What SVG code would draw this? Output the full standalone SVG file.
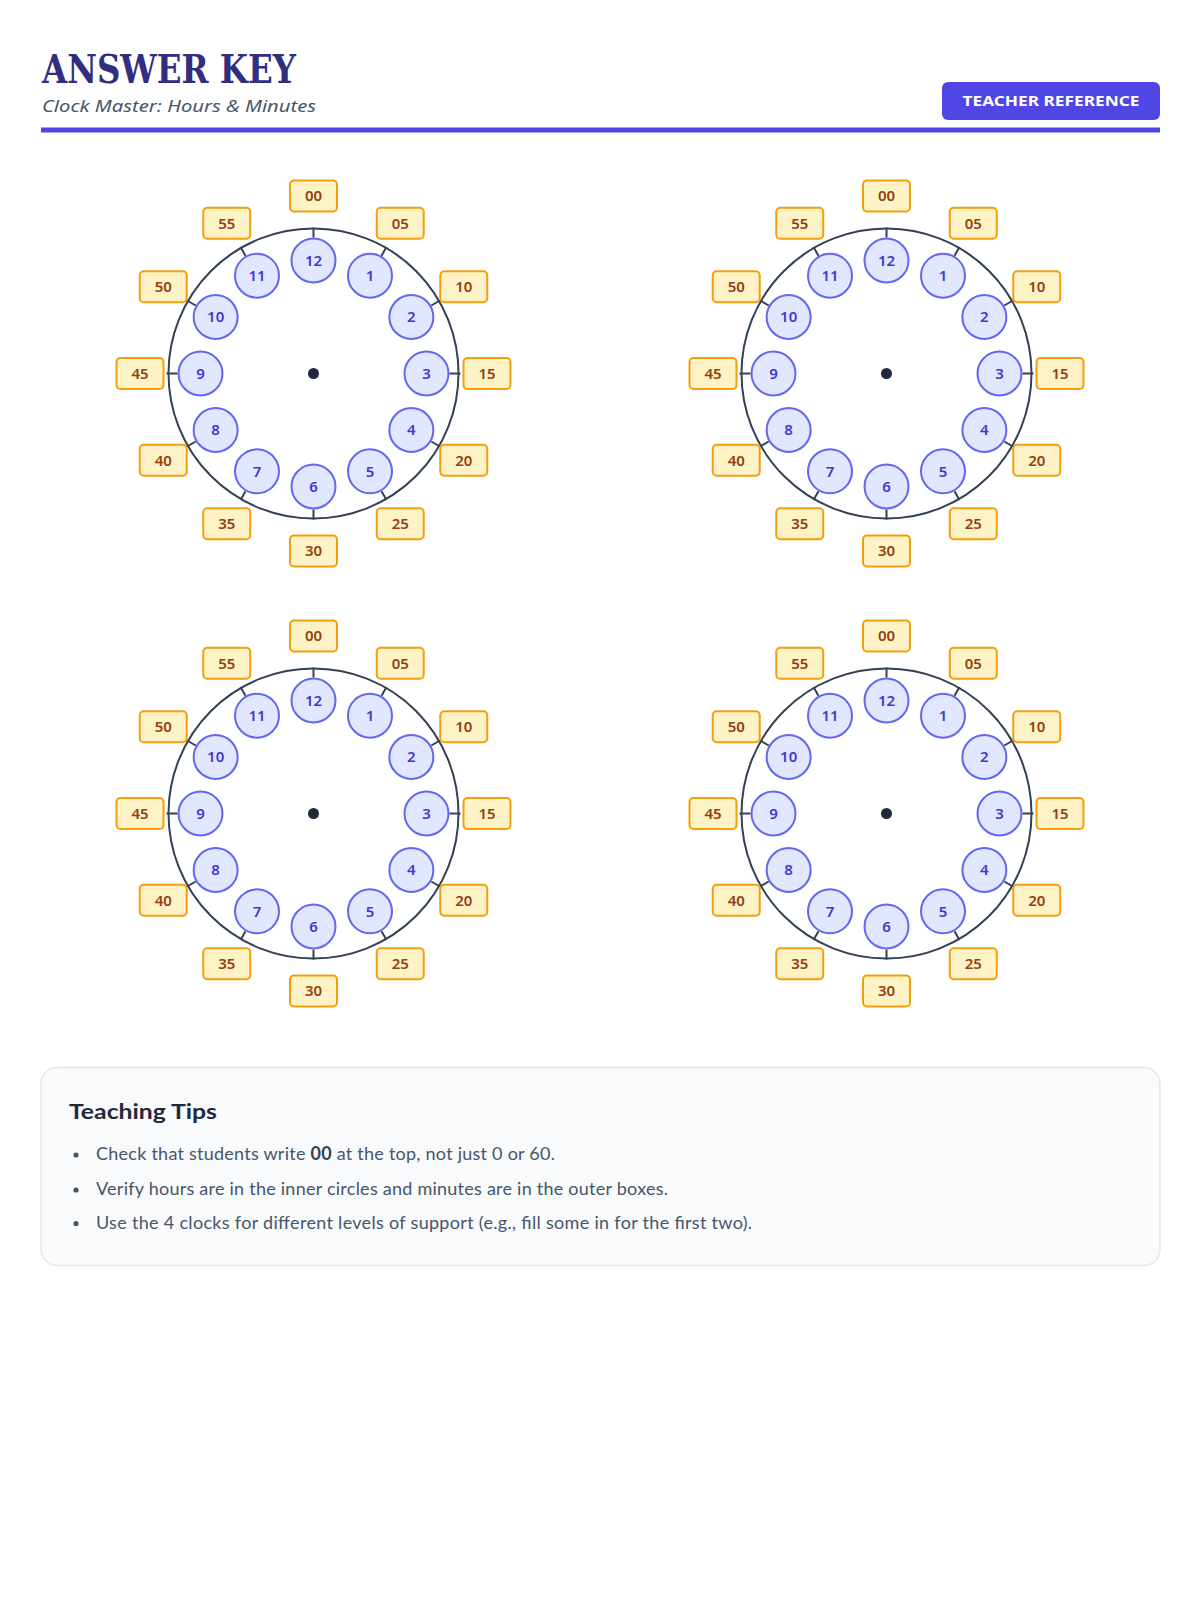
<svg xmlns="http://www.w3.org/2000/svg" width="1200" height="1600" viewBox="0 0 1200 1600">
<style>
.title{font-family:"DejaVu Serif","Liberation Serif",serif;font-weight:700;font-size:39px;fill:#312e81}
.sub{font-family:"Noto Sans","Open Sans",sans-serif;font-style:italic;font-size:17px;fill:#475569}
.badge{fill:#4f46e5}
.badgeT{font-family:"Noto Sans","Open Sans",sans-serif;font-weight:700;font-size:14px;fill:#ffffff;text-anchor:middle}
.face{fill:#ffffff;stroke:#334155;stroke-width:2}
.tick{stroke:#334155;stroke-width:2;fill:none}
.dot{fill:#1e293b}
.hr circle{fill:#e0e7ff;stroke:#6366f1;stroke-width:2}
.hr text{font-family:"Noto Sans","Open Sans",sans-serif;font-weight:600;font-size:15px;fill:#4338ca;text-anchor:middle}
.mn rect{fill:#fef3c7;stroke:#f59e0b;stroke-width:2}
.mn text{font-family:"Noto Sans","Open Sans",sans-serif;font-weight:600;font-size:15px;fill:#92400e;text-anchor:middle}
.tipbox{fill:#f8fafc;stroke:#e2e8f0;stroke-width:1.5}
.tiph{font-family:"Lato","Noto Sans",sans-serif;font-weight:700;font-size:21px;fill:#1e293b}
.tip{font-family:"Lato","Noto Sans",sans-serif;font-size:18px;fill:#475569}
.bul{fill:#475569}
</style>
<defs>
<g id="face-tpl">
<circle class="face" r="145"/>
<path class="tick" d="M0,-136V-146M68,-117.78L73,-126.44M117.78,-68L126.44,-73M136,0H147M117.78,68L126.44,73M68,117.78L73,126.44M0,136V146M-68,117.78L-73,126.44M-117.78,68L-126.44,73M-136,0H-147M-117.78,-68L-126.44,-73M-68,-117.78L-73,-126.44"/>
<circle class="dot" r="5.5"/>
</g>
</defs>

<g id="header">
<text class="title" x="42" y="83" textLength="254" lengthAdjust="spacingAndGlyphs">ANSWER KEY</text>
<text class="sub" x="42" y="112" textLength="274" lengthAdjust="spacingAndGlyphs">Clock Master: Hours &amp; Minutes</text>
<rect class="badge" x="942" y="82" width="218" height="38" rx="6"/>
<text class="badgeT" x="1051" y="106" textLength="177" lengthAdjust="spacingAndGlyphs">TEACHER REFERENCE</text>
<rect x="41" y="127.5" width="1119" height="5" fill="#4f46e5"/>
</g>

<g id="clock-1" transform="translate(313.5,373.5)">
<use href="#face-tpl"/>
<g class="hr">
<g id="c1-h12" transform="translate(0,-113)"><circle r="22"/><text y="5.3">12</text></g>
<g id="c1-h1" transform="translate(56.5,-97.86)"><circle r="22"/><text y="5.3">1</text></g>
<g id="c1-h2" transform="translate(97.86,-56.5)"><circle r="22"/><text y="5.3">2</text></g>
<g id="c1-h3" transform="translate(113,0)"><circle r="22"/><text y="5.3">3</text></g>
<g id="c1-h4" transform="translate(97.86,56.5)"><circle r="22"/><text y="5.3">4</text></g>
<g id="c1-h5" transform="translate(56.5,97.86)"><circle r="22"/><text y="5.3">5</text></g>
<g id="c1-h6" transform="translate(0,113)"><circle r="22"/><text y="5.3">6</text></g>
<g id="c1-h7" transform="translate(-56.5,97.86)"><circle r="22"/><text y="5.3">7</text></g>
<g id="c1-h8" transform="translate(-97.86,56.5)"><circle r="22"/><text y="5.3">8</text></g>
<g id="c1-h9" transform="translate(-113,0)"><circle r="22"/><text y="5.3">9</text></g>
<g id="c1-h10" transform="translate(-97.86,-56.5)"><circle r="22"/><text y="5.3">10</text></g>
<g id="c1-h11" transform="translate(-56.5,-97.86)"><circle r="22"/><text y="5.3">11</text></g>
</g>
<g class="mn">
<g id="c1-m00" transform="translate(0,-177.5)"><rect x="-23.5" y="-15.5" width="47" height="31" rx="4"/><text y="5.3">00</text></g>
<g id="c1-m05" transform="translate(86.75,-150.26)"><rect x="-23.5" y="-15.5" width="47" height="31" rx="4"/><text y="5.3">05</text></g>
<g id="c1-m10" transform="translate(150.26,-86.75)"><rect x="-23.5" y="-15.5" width="47" height="31" rx="4"/><text y="5.3">10</text></g>
<g id="c1-m15" transform="translate(173.5,0)"><rect x="-23.5" y="-15.5" width="47" height="31" rx="4"/><text y="5.3">15</text></g>
<g id="c1-m20" transform="translate(150.26,86.75)"><rect x="-23.5" y="-15.5" width="47" height="31" rx="4"/><text y="5.3">20</text></g>
<g id="c1-m25" transform="translate(86.75,150.26)"><rect x="-23.5" y="-15.5" width="47" height="31" rx="4"/><text y="5.3">25</text></g>
<g id="c1-m30" transform="translate(0,177.5)"><rect x="-23.5" y="-15.5" width="47" height="31" rx="4"/><text y="5.3">30</text></g>
<g id="c1-m35" transform="translate(-86.75,150.26)"><rect x="-23.5" y="-15.5" width="47" height="31" rx="4"/><text y="5.3">35</text></g>
<g id="c1-m40" transform="translate(-150.26,86.75)"><rect x="-23.5" y="-15.5" width="47" height="31" rx="4"/><text y="5.3">40</text></g>
<g id="c1-m45" transform="translate(-173.5,0)"><rect x="-23.5" y="-15.5" width="47" height="31" rx="4"/><text y="5.3">45</text></g>
<g id="c1-m50" transform="translate(-150.26,-86.75)"><rect x="-23.5" y="-15.5" width="47" height="31" rx="4"/><text y="5.3">50</text></g>
<g id="c1-m55" transform="translate(-86.75,-150.26)"><rect x="-23.5" y="-15.5" width="47" height="31" rx="4"/><text y="5.3">55</text></g>
</g>
</g>

<g id="clock-2" transform="translate(886.5,373.5)">
<use href="#face-tpl"/>
<g class="hr">
<g id="c2-h12" transform="translate(0,-113)"><circle r="22"/><text y="5.3">12</text></g>
<g id="c2-h1" transform="translate(56.5,-97.86)"><circle r="22"/><text y="5.3">1</text></g>
<g id="c2-h2" transform="translate(97.86,-56.5)"><circle r="22"/><text y="5.3">2</text></g>
<g id="c2-h3" transform="translate(113,0)"><circle r="22"/><text y="5.3">3</text></g>
<g id="c2-h4" transform="translate(97.86,56.5)"><circle r="22"/><text y="5.3">4</text></g>
<g id="c2-h5" transform="translate(56.5,97.86)"><circle r="22"/><text y="5.3">5</text></g>
<g id="c2-h6" transform="translate(0,113)"><circle r="22"/><text y="5.3">6</text></g>
<g id="c2-h7" transform="translate(-56.5,97.86)"><circle r="22"/><text y="5.3">7</text></g>
<g id="c2-h8" transform="translate(-97.86,56.5)"><circle r="22"/><text y="5.3">8</text></g>
<g id="c2-h9" transform="translate(-113,0)"><circle r="22"/><text y="5.3">9</text></g>
<g id="c2-h10" transform="translate(-97.86,-56.5)"><circle r="22"/><text y="5.3">10</text></g>
<g id="c2-h11" transform="translate(-56.5,-97.86)"><circle r="22"/><text y="5.3">11</text></g>
</g>
<g class="mn">
<g id="c2-m00" transform="translate(0,-177.5)"><rect x="-23.5" y="-15.5" width="47" height="31" rx="4"/><text y="5.3">00</text></g>
<g id="c2-m05" transform="translate(86.75,-150.26)"><rect x="-23.5" y="-15.5" width="47" height="31" rx="4"/><text y="5.3">05</text></g>
<g id="c2-m10" transform="translate(150.26,-86.75)"><rect x="-23.5" y="-15.5" width="47" height="31" rx="4"/><text y="5.3">10</text></g>
<g id="c2-m15" transform="translate(173.5,0)"><rect x="-23.5" y="-15.5" width="47" height="31" rx="4"/><text y="5.3">15</text></g>
<g id="c2-m20" transform="translate(150.26,86.75)"><rect x="-23.5" y="-15.5" width="47" height="31" rx="4"/><text y="5.3">20</text></g>
<g id="c2-m25" transform="translate(86.75,150.26)"><rect x="-23.5" y="-15.5" width="47" height="31" rx="4"/><text y="5.3">25</text></g>
<g id="c2-m30" transform="translate(0,177.5)"><rect x="-23.5" y="-15.5" width="47" height="31" rx="4"/><text y="5.3">30</text></g>
<g id="c2-m35" transform="translate(-86.75,150.26)"><rect x="-23.5" y="-15.5" width="47" height="31" rx="4"/><text y="5.3">35</text></g>
<g id="c2-m40" transform="translate(-150.26,86.75)"><rect x="-23.5" y="-15.5" width="47" height="31" rx="4"/><text y="5.3">40</text></g>
<g id="c2-m45" transform="translate(-173.5,0)"><rect x="-23.5" y="-15.5" width="47" height="31" rx="4"/><text y="5.3">45</text></g>
<g id="c2-m50" transform="translate(-150.26,-86.75)"><rect x="-23.5" y="-15.5" width="47" height="31" rx="4"/><text y="5.3">50</text></g>
<g id="c2-m55" transform="translate(-86.75,-150.26)"><rect x="-23.5" y="-15.5" width="47" height="31" rx="4"/><text y="5.3">55</text></g>
</g>
</g>

<g id="clock-3" transform="translate(313.5,813.5)">
<use href="#face-tpl"/>
<g class="hr">
<g id="c3-h12" transform="translate(0,-113)"><circle r="22"/><text y="5.3">12</text></g>
<g id="c3-h1" transform="translate(56.5,-97.86)"><circle r="22"/><text y="5.3">1</text></g>
<g id="c3-h2" transform="translate(97.86,-56.5)"><circle r="22"/><text y="5.3">2</text></g>
<g id="c3-h3" transform="translate(113,0)"><circle r="22"/><text y="5.3">3</text></g>
<g id="c3-h4" transform="translate(97.86,56.5)"><circle r="22"/><text y="5.3">4</text></g>
<g id="c3-h5" transform="translate(56.5,97.86)"><circle r="22"/><text y="5.3">5</text></g>
<g id="c3-h6" transform="translate(0,113)"><circle r="22"/><text y="5.3">6</text></g>
<g id="c3-h7" transform="translate(-56.5,97.86)"><circle r="22"/><text y="5.3">7</text></g>
<g id="c3-h8" transform="translate(-97.86,56.5)"><circle r="22"/><text y="5.3">8</text></g>
<g id="c3-h9" transform="translate(-113,0)"><circle r="22"/><text y="5.3">9</text></g>
<g id="c3-h10" transform="translate(-97.86,-56.5)"><circle r="22"/><text y="5.3">10</text></g>
<g id="c3-h11" transform="translate(-56.5,-97.86)"><circle r="22"/><text y="5.3">11</text></g>
</g>
<g class="mn">
<g id="c3-m00" transform="translate(0,-177.5)"><rect x="-23.5" y="-15.5" width="47" height="31" rx="4"/><text y="5.3">00</text></g>
<g id="c3-m05" transform="translate(86.75,-150.26)"><rect x="-23.5" y="-15.5" width="47" height="31" rx="4"/><text y="5.3">05</text></g>
<g id="c3-m10" transform="translate(150.26,-86.75)"><rect x="-23.5" y="-15.5" width="47" height="31" rx="4"/><text y="5.3">10</text></g>
<g id="c3-m15" transform="translate(173.5,0)"><rect x="-23.5" y="-15.5" width="47" height="31" rx="4"/><text y="5.3">15</text></g>
<g id="c3-m20" transform="translate(150.26,86.75)"><rect x="-23.5" y="-15.5" width="47" height="31" rx="4"/><text y="5.3">20</text></g>
<g id="c3-m25" transform="translate(86.75,150.26)"><rect x="-23.5" y="-15.5" width="47" height="31" rx="4"/><text y="5.3">25</text></g>
<g id="c3-m30" transform="translate(0,177.5)"><rect x="-23.5" y="-15.5" width="47" height="31" rx="4"/><text y="5.3">30</text></g>
<g id="c3-m35" transform="translate(-86.75,150.26)"><rect x="-23.5" y="-15.5" width="47" height="31" rx="4"/><text y="5.3">35</text></g>
<g id="c3-m40" transform="translate(-150.26,86.75)"><rect x="-23.5" y="-15.5" width="47" height="31" rx="4"/><text y="5.3">40</text></g>
<g id="c3-m45" transform="translate(-173.5,0)"><rect x="-23.5" y="-15.5" width="47" height="31" rx="4"/><text y="5.3">45</text></g>
<g id="c3-m50" transform="translate(-150.26,-86.75)"><rect x="-23.5" y="-15.5" width="47" height="31" rx="4"/><text y="5.3">50</text></g>
<g id="c3-m55" transform="translate(-86.75,-150.26)"><rect x="-23.5" y="-15.5" width="47" height="31" rx="4"/><text y="5.3">55</text></g>
</g>
</g>

<g id="clock-4" transform="translate(886.5,813.5)">
<use href="#face-tpl"/>
<g class="hr">
<g id="c4-h12" transform="translate(0,-113)"><circle r="22"/><text y="5.3">12</text></g>
<g id="c4-h1" transform="translate(56.5,-97.86)"><circle r="22"/><text y="5.3">1</text></g>
<g id="c4-h2" transform="translate(97.86,-56.5)"><circle r="22"/><text y="5.3">2</text></g>
<g id="c4-h3" transform="translate(113,0)"><circle r="22"/><text y="5.3">3</text></g>
<g id="c4-h4" transform="translate(97.86,56.5)"><circle r="22"/><text y="5.3">4</text></g>
<g id="c4-h5" transform="translate(56.5,97.86)"><circle r="22"/><text y="5.3">5</text></g>
<g id="c4-h6" transform="translate(0,113)"><circle r="22"/><text y="5.3">6</text></g>
<g id="c4-h7" transform="translate(-56.5,97.86)"><circle r="22"/><text y="5.3">7</text></g>
<g id="c4-h8" transform="translate(-97.86,56.5)"><circle r="22"/><text y="5.3">8</text></g>
<g id="c4-h9" transform="translate(-113,0)"><circle r="22"/><text y="5.3">9</text></g>
<g id="c4-h10" transform="translate(-97.86,-56.5)"><circle r="22"/><text y="5.3">10</text></g>
<g id="c4-h11" transform="translate(-56.5,-97.86)"><circle r="22"/><text y="5.3">11</text></g>
</g>
<g class="mn">
<g id="c4-m00" transform="translate(0,-177.5)"><rect x="-23.5" y="-15.5" width="47" height="31" rx="4"/><text y="5.3">00</text></g>
<g id="c4-m05" transform="translate(86.75,-150.26)"><rect x="-23.5" y="-15.5" width="47" height="31" rx="4"/><text y="5.3">05</text></g>
<g id="c4-m10" transform="translate(150.26,-86.75)"><rect x="-23.5" y="-15.5" width="47" height="31" rx="4"/><text y="5.3">10</text></g>
<g id="c4-m15" transform="translate(173.5,0)"><rect x="-23.5" y="-15.5" width="47" height="31" rx="4"/><text y="5.3">15</text></g>
<g id="c4-m20" transform="translate(150.26,86.75)"><rect x="-23.5" y="-15.5" width="47" height="31" rx="4"/><text y="5.3">20</text></g>
<g id="c4-m25" transform="translate(86.75,150.26)"><rect x="-23.5" y="-15.5" width="47" height="31" rx="4"/><text y="5.3">25</text></g>
<g id="c4-m30" transform="translate(0,177.5)"><rect x="-23.5" y="-15.5" width="47" height="31" rx="4"/><text y="5.3">30</text></g>
<g id="c4-m35" transform="translate(-86.75,150.26)"><rect x="-23.5" y="-15.5" width="47" height="31" rx="4"/><text y="5.3">35</text></g>
<g id="c4-m40" transform="translate(-150.26,86.75)"><rect x="-23.5" y="-15.5" width="47" height="31" rx="4"/><text y="5.3">40</text></g>
<g id="c4-m45" transform="translate(-173.5,0)"><rect x="-23.5" y="-15.5" width="47" height="31" rx="4"/><text y="5.3">45</text></g>
<g id="c4-m50" transform="translate(-150.26,-86.75)"><rect x="-23.5" y="-15.5" width="47" height="31" rx="4"/><text y="5.3">50</text></g>
<g id="c4-m55" transform="translate(-86.75,-150.26)"><rect x="-23.5" y="-15.5" width="47" height="31" rx="4"/><text y="5.3">55</text></g>
</g>
</g>

<g id="tips">
<rect class="tipbox" x="41" y="1067.5" width="1119" height="198" rx="16"/>
<text class="tiph" x="69" y="1119" textLength="148" lengthAdjust="spacingAndGlyphs">Teaching Tips</text>
<circle class="bul" cx="76" cy="1155" r="2.6"/>
<circle class="bul" cx="76" cy="1190" r="2.6"/>
<circle class="bul" cx="76" cy="1223.5" r="2.6"/>
<text class="tip" x="96" y="1160" textLength="459">Check that students write <tspan font-weight="700" fill="#334155">00</tspan> at the top, not just 0 or 60.</text>
<text class="tip" x="96" y="1195" textLength="572">Verify hours are in the inner circles and minutes are in the outer boxes.</text>
<text class="tip" x="96" y="1228.5" textLength="656">Use the 4 clocks for different levels of support (e.g., fill some in for the first two).</text>
</g>
</svg>
